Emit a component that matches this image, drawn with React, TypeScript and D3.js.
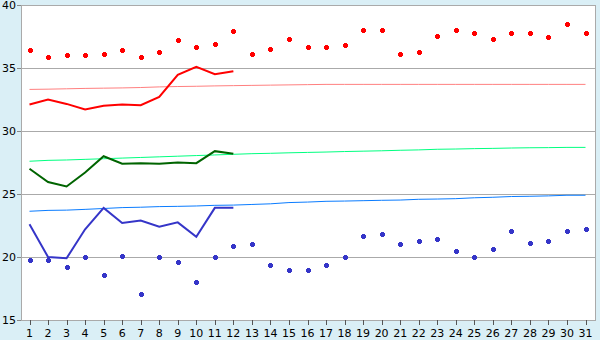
import React from "react";
import * as d3 from "d3";

const days = d3.range(1, 32);
const yTicks = [15, 20, 25, 30, 35, 40];

const maxDots = [36.4, 35.85, 36.0, 36.0, 36.1, 36.4, 35.85, 36.25, 37.2, 36.7, 36.9, 37.9, 36.1, 36.5, 37.3, 36.7, 36.65, 36.8, 38.0, 38.0, 36.1, 36.25, 37.5, 38.0, 37.75, 37.3, 37.8, 37.8, 37.45, 38.5, 37.8];
const minDots = [19.8, 19.8, 19.2, 20.0, 18.6, 20.1, 17.05, 20.0, 19.6, 18.0, 20.0, 20.85, 21.0, 19.35, 19.0, 19.0, 19.4, 20.0, 21.65, 21.8, 21.0, 21.25, 21.4, 20.45, 20.0, 20.6, 22.05, 21.1, 21.25, 22.05, 22.2];

const maxLine = [32.1, 32.5, 32.15, 31.7, 32.0, 32.1, 32.05, 32.7, 34.45, 35.1, 34.5, 34.75];
const midLine = [27.0, 25.95, 25.6, 26.7, 28.0, 27.4, 27.45, 27.4, 27.5, 27.45, 28.4, 28.2];
const minLine = [22.6, 20.0, 19.9, 22.2, 23.9, 22.7, 22.9, 22.4, 22.75, 21.6, 23.9, 23.9];

const maxNormal = [33.3, 33.32, 33.35, 33.38, 33.4, 33.42, 33.45, 33.5, 33.53, 33.55, 33.58, 33.6, 33.62, 33.64, 33.66, 33.68, 33.7, 33.7, 33.7, 33.7, 33.7, 33.7, 33.7, 33.7, 33.7, 33.7, 33.7, 33.7, 33.7, 33.7, 33.7];
const midNormal = [27.6, 27.67, 27.7, 27.75, 27.8, 27.85, 27.9, 27.95, 28.0, 28.05, 28.1, 28.15, 28.2, 28.23, 28.27, 28.3, 28.33, 28.37, 28.4, 28.43, 28.47, 28.5, 28.55, 28.57, 28.6, 28.62, 28.65, 28.67, 28.68, 28.7, 28.7];
const minNormal = [23.63, 23.7, 23.72, 23.78, 23.85, 23.92, 23.95, 24.0, 24.02, 24.05, 24.1, 24.12, 24.17, 24.22, 24.32, 24.36, 24.42, 24.44, 24.47, 24.5, 24.52, 24.58, 24.6, 24.63, 24.7, 24.74, 24.8, 24.82, 24.85, 24.9, 24.9];

const W = 600, H = 340;
const left = 21, right = 595, top = 5, bottom = 320;

export default function App() {
  const x = d3.scaleLinear().domain([1, 31]).range([29.5, 585.5]);
  const y = d3.scaleLinear().domain([15, 40]).range([bottom, top]);
  const line = d3.line<number>().x((_, i) => x(i + 1)).y((d) => y(d));

  const marker = (cx: number, cy: number, color: string, key: string) => (
    <g key={key} fill={color} shapeRendering="crispEdges">
      <rect x={Math.round(cx) - 2} y={Math.round(cy) - 1} width={5} height={3} />
      <rect x={Math.round(cx) - 1} y={Math.round(cy) - 2} width={3} height={5} />
    </g>
  );

  return (
    <div style={{ position: "fixed", left: 0, top: 0 }}>
      <svg width={W} height={H} style={{ display: "block" }}>
        <rect x={0} y={0} width={W} height={H} fill="#daeff6" />
        <rect x={left} y={top} width={right - left} height={bottom - top} fill="#ffffff" />
        {yTicks.map((t) => (
          <line key={"g" + t} x1={left} x2={right} y1={Math.round(y(t)) + 0.5} y2={Math.round(y(t)) + 0.5} stroke="#aaaaaa" strokeWidth={1} />
        ))}
        <line x1={left + 0.5} x2={left + 0.5} y1={top} y2={bottom} stroke="#aaaaaa" />
        <line x1={right + 0.5} x2={right + 0.5} y1={top} y2={bottom + 1} stroke="#aaaaaa" />
        {yTicks.map((t) => (
          <g key={"yt" + t}>
            <line x1={17} x2={left} y1={Math.round(y(t)) + 0.5} y2={Math.round(y(t)) + 0.5} stroke="#888888" />
            <text x={16} y={y(t) + 4} textAnchor="end" fontFamily="DejaVu Sans, Verdana, sans-serif" fontSize={11} fill="#000">{t}</text>
          </g>
        ))}
        {days.map((d) => (
          <g key={"xt" + d}>
            <line x1={Math.round(x(d)) + 0.5} x2={Math.round(x(d)) + 0.5} y1={bottom} y2={bottom + 5} stroke="#555555" />
            <text x={x(d)} y={337} textAnchor="middle" fontFamily="DejaVu Sans, Verdana, sans-serif" fontSize={11} fill="#000">{d}</text>
          </g>
        ))}
        <path d={line(maxNormal) || ""} fill="none" stroke="#ff8080" strokeWidth={1} />
        <path d={line(midNormal) || ""} fill="none" stroke="#00ff80" strokeWidth={1} />
        <path d={line(minNormal) || ""} fill="none" stroke="#0a7cff" strokeWidth={1} />
        <path d={line(maxLine) || ""} fill="none" stroke="#ff0000" strokeWidth={2} />
        <path d={line(midLine) || ""} fill="none" stroke="#006400" strokeWidth={2} />
        <path d={line(minLine) || ""} fill="none" stroke="#3535c8" strokeWidth={2} />
        {maxDots.map((v, i) => marker(x(i + 1), y(v), "#ff0000", "mx" + i))}
        {minDots.map((v, i) => marker(x(i + 1), y(v), "#3535c8", "mn" + i))}
      </svg>
    </div>
  );
}
